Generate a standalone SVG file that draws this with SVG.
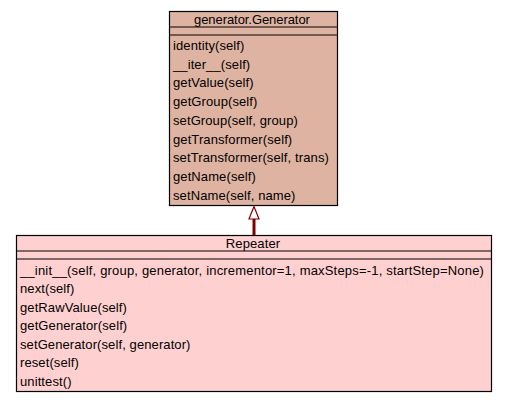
<svg xmlns="http://www.w3.org/2000/svg" width="506" height="402" viewBox="0 0 506 402">
<style>
.box{stroke:#000;stroke-width:1.2}
.gen{fill:#DFB3A1}
.rep{fill:#FFD0D0}
.sep{stroke:#000;stroke-width:1.2}
text{font-family:"Liberation Sans",Arial,sans-serif;font-size:13px;letter-spacing:0.1px;fill:#000}
.title{text-anchor:middle}
</style>
<rect width="506" height="402" fill="#fff"/>
<g id="generator">
<rect class="box gen" x="169.5" y="11.5" width="168" height="194"/>
<line class="sep" x1="169.5" y1="27" x2="337.5" y2="27"/>
<line class="sep" x1="169.5" y1="35" x2="337.5" y2="35"/>
<text class="title" x="252" y="23.5" textLength="116" lengthAdjust="spacing">generator.Generator</text>
<text x="173" y="50">identity(self)</text>
<text x="173" y="68.7">__iter__(self)</text>
<text x="173" y="87.4">getValue(self)</text>
<text x="173" y="106.1">getGroup(self)</text>
<text x="173" y="124.8">setGroup(self, group)</text>
<text x="173" y="143.5">getTransformer(self)</text>
<text x="173" y="162.2" textLength="156" lengthAdjust="spacing">setTransformer(self, trans)</text>
<text x="173" y="180.9">getName(self)</text>
<text x="173" y="199.6">setName(self, name)</text>
</g>
<g id="repeater">
<rect class="box rep" x="16.5" y="235.5" width="475" height="156"/>
<line class="sep" x1="16.5" y1="251" x2="491.5" y2="251"/>
<line class="sep" x1="16.5" y1="259" x2="491.5" y2="259"/>
<text class="title" x="253" y="247.5">Repeater</text>
<text x="20" y="274.5" textLength="464" lengthAdjust="spacing">__init__(self, group, generator, incrementor=1, maxSteps=-1, startStep=None)</text>
<text x="20" y="293">next(self)</text>
<text x="20" y="311.5">getRawValue(self)</text>
<text x="20" y="330">getGenerator(self)</text>
<text x="20" y="348.5">setGenerator(self, generator)</text>
<text x="20" y="367">reset(self)</text>
<text x="20" y="385.5">unittest()</text>
</g>
<g id="connectors">
<line x1="254" y1="219" x2="254" y2="235" stroke="#800000" stroke-width="3"/>
<polygon points="254,206.5 249,219 259,219" fill="#fff" stroke="#800000" stroke-width="1.2"/>
</g>
</svg>
